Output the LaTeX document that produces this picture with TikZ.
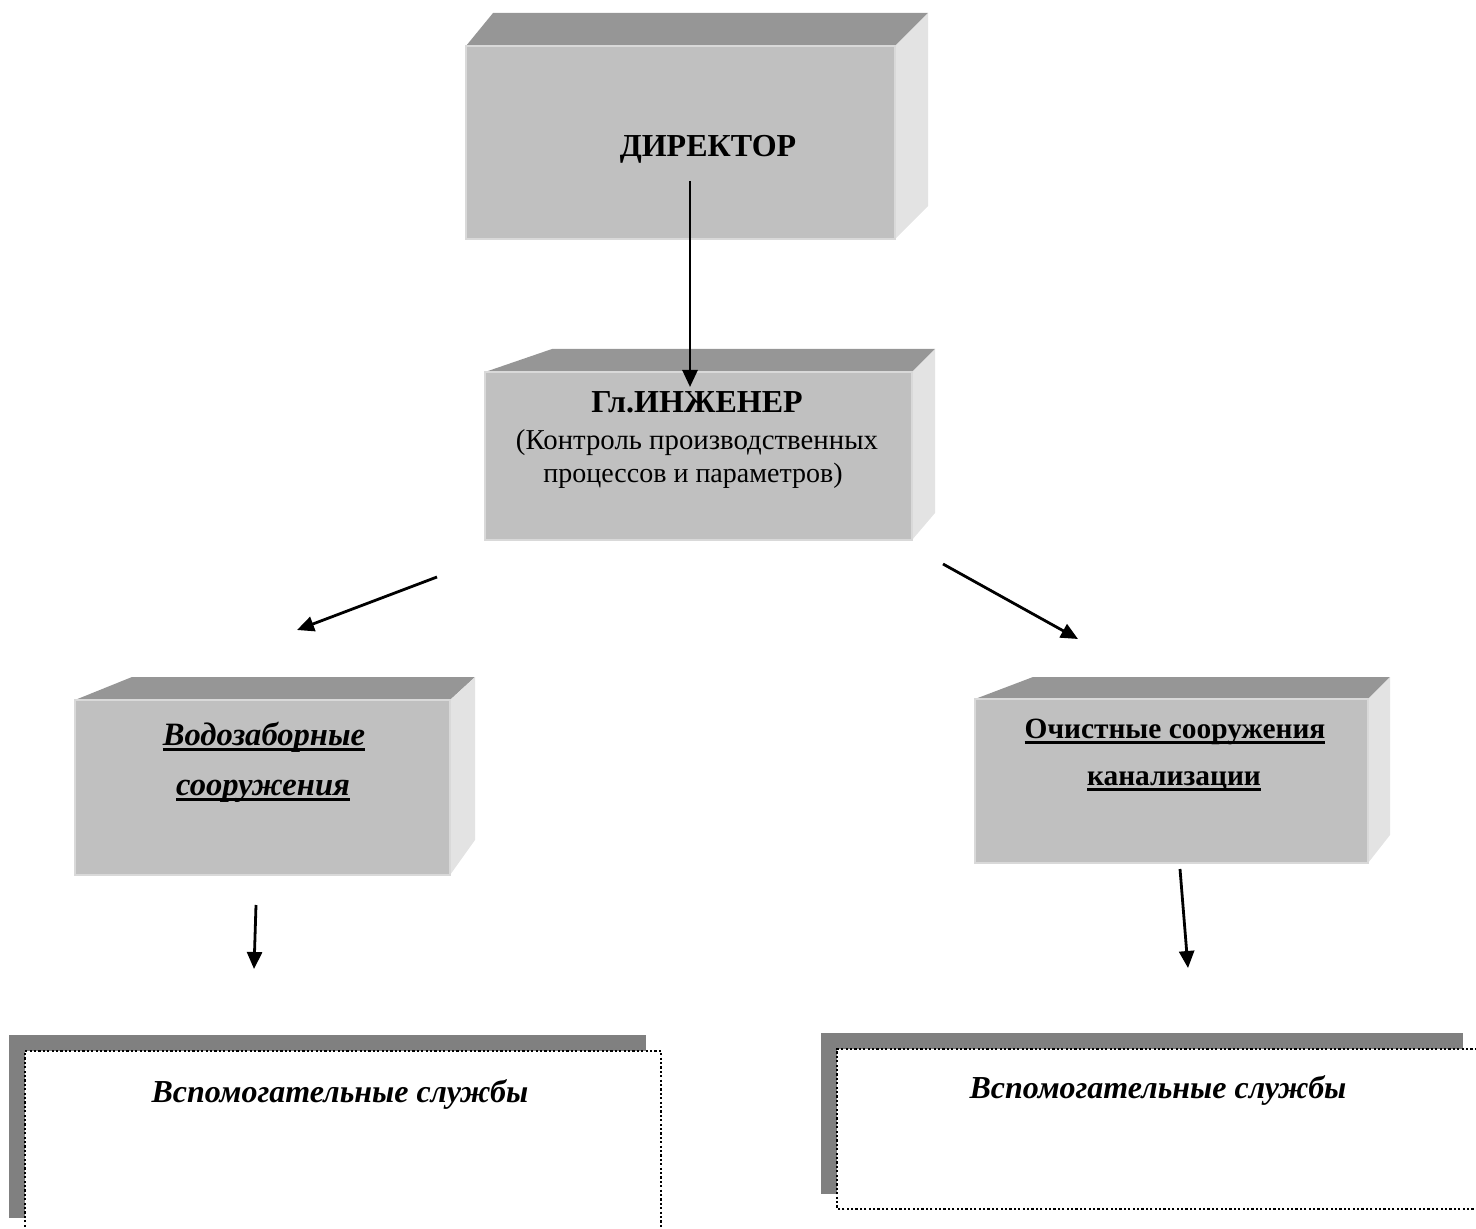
\documentclass[tikz,border=0pt]{standalone}
\usepackage{fontspec}
\setmainfont{Liberation Serif}
\usetikzlibrary{arrows.meta}
\definecolor{topgray}{HTML}{969696}
\definecolor{frontgray}{HTML}{C0C0C0}
\definecolor{sidegray}{HTML}{E3E3E3}
\definecolor{shadowgray}{HTML}{808080}
\newcommand\thickul[1]{\setbox0\hbox{#1}\rlap{\rule[-3pt]{\wd0}{1.6pt}}\box0}
\tikzset{
  topface/.style={fill=topgray, draw=none},
  frontface/.style={fill=frontgray, draw=white!85!black, line width=0.6pt},
  sideface/.style={fill=sidegray, draw=none},
  lbl/.style={anchor=base, inner sep=0pt, font=\fontsize{16pt}{19pt}\selectfont\bfseries},
  sublbl/.style={anchor=base, inner sep=0pt, font=\fontsize{14.4pt}{17pt}\selectfont},
  conn/.style={line width=1.4pt, -{Triangle[length=8.5pt,width=7.5pt]}},
  dotbox/.style={draw=black, line width=1pt, dash pattern=on 1.1pt off 1.1pt, fill=white}
}
\begin{document}
\begin{tikzpicture}[x=0.5pt,y=-0.5pt]
\useasboundingbox (0,0) rectangle (1476,1229);
% ---- Director box
\fill[topface] (466,46) -- (493,13) -- (928,13) -- (895,46) -- cycle;
\fill[sideface] (895,46) -- (928,13) -- (928,206) -- (895,239) -- cycle;
\draw[frontface] (466,46) rectangle (895,239);
\node[lbl] (dir) at (708,157) {ДИРЕКТОР};
% ---- Chief engineer box
\fill[topface] (485,372) -- (552,349) -- (935,349) -- (912,372) -- cycle;
\fill[sideface] (912,372) -- (935,349) -- (935,513) -- (912,540) -- cycle;
\draw[frontface] (485,372) rectangle (912,540);
\node[lbl] (eng) at (697,413) {Гл.ИНЖЕНЕР};
\node[sublbl] (eng2) at (697,450) {(Контроль производственных};
\node[sublbl, font=\fontsize{14pt}{17pt}\selectfont] (eng3) at (693,482) {процессов и параметров)};
% ---- Water intake box
\fill[topface] (75,700) -- (132,677) -- (475,677) -- (450,700) -- cycle;
\fill[sideface] (450,700) -- (475,677) -- (475,840) -- (450,875) -- cycle;
\draw[frontface] (75,700) rectangle (450,875);
\node[lbl, font=\fontsize{16.3pt}{19pt}\selectfont\bfseries\itshape] (wat1) at (264,745) {\thickul{Водозаборные}};
\node[lbl, font=\fontsize{16.3pt}{19pt}\selectfont\bfseries\itshape] (wat2) at (263,795) {\thickul{сооружения}};
% ---- Sewage treatment box
\fill[topface] (975,699) -- (1033,677) -- (1390,677) -- (1368,699) -- cycle;
\fill[sideface] (1368,699) -- (1390,677) -- (1390,835) -- (1368,863) -- cycle;
\draw[frontface] (975,699) rectangle (1368,863);
\node[lbl, font=\fontsize{14.7pt}{17pt}\selectfont\bfseries] (sew1) at (1175,738) {\thickul{Очистные сооружения}};
\node[lbl, font=\fontsize{14.7pt}{17pt}\selectfont\bfseries] (sew2) at (1174,785) {\thickul{канализации}};
% ---- Auxiliary services, left
\fill[shadowgray] (9,1035) rectangle (646,1051);
\fill[shadowgray] (9,1035) rectangle (25,1218);
\draw[dotbox] (25,1262) -- (25,1051) -- (661,1051) -- (661,1262);
\node[lbl, font=\fontsize{16pt}{19pt}\selectfont\bfseries\itshape] (aux1) at (340,1102) {Вспомогательные службы};
% ---- Auxiliary services, right
\fill[shadowgray] (821,1033) rectangle (1463,1049);
\fill[shadowgray] (821,1033) rectangle (837,1194);
\draw[dotbox] (1500,1209) -- (837,1209) -- (837,1049) -- (1500,1049);
\node[lbl, font=\fontsize{16pt}{19pt}\selectfont\bfseries\itshape] (aux2) at (1158,1098) {Вспомогательные службы};
% ---- connector end points
\coordinate (a1s) at (690,181);
\coordinate (a1e) at (690,387);
\coordinate (a2s) at (437,577);
\coordinate (a2e) at (297,630);
\coordinate (a3s) at (943,564);
\coordinate (a3e) at (1078,639);
\coordinate (a4s) at (256,905);
\coordinate (a4e) at (254,969);
\coordinate (a5s) at (1180,869);
\coordinate (a5e) at (1188,968);
\draw[conn] (a1s) -- (a1e);
\draw[conn] (a2s) -- (a2e);
\draw[conn] (a3s) -- (a3e);
\draw[conn] (a4s) -- (a4e);
\draw[conn] (a5s) -- (a5e);
\end{tikzpicture}
\end{document}
